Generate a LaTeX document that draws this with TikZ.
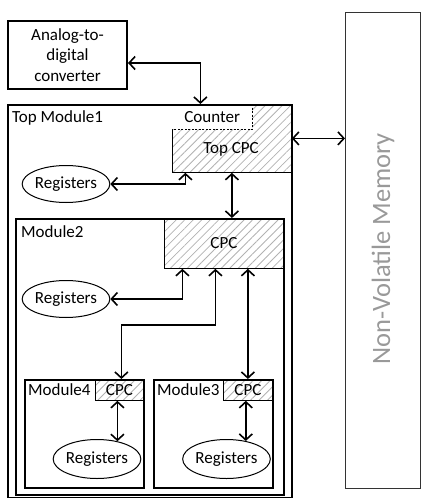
\documentclass[tikz,border=0pt]{standalone}
\usepackage{fontspec}
\setmainfont{Carlito}
\usetikzlibrary{arrows.meta,patterns.meta,shapes.geometric}
\begin{document}
\begin{tikzpicture}[x=1pt,y=-1pt,
  every node/.style={font=\fontsize{17}{20.5}\selectfont, inner sep=0pt},
  thickbox/.style={draw, line width=2pt, anchor=north west},
  hatchbox/.style={draw, line width=0.8pt, anchor=north west,
    pattern={Lines[angle=45,distance=6pt,line width=0.8pt]}, pattern color=black!30},
  regs/.style={draw, ellipse, line width=1pt, minimum width=78pt, minimum height=37pt},
  arr/.style={line width=1.6pt, {Straight Barb[length=6pt,width=13pt]}-{Straight Barb[length=6pt,width=13pt]}},
  lbl/.style={anchor=west}]
\useasboundingbox (0,0) rectangle (422,498);
% hatched control boxes
\node[hatchbox, minimum width=119pt, minimum height=68pt] (topcpc) at (172,104) {};
\node[hatchbox, minimum width=119pt, minimum height=50pt] (cpc2) at (164,218) {CPC};
\node[hatchbox, minimum width=48pt, minimum height=21pt] (cpc4) at (95,379) {CPC};
\node[hatchbox, minimum width=49pt, minimum height=21pt] (cpc3) at (223,379) {CPC};
% counter
\node[fill=white, anchor=north west, minimum width=80pt, minimum height=25pt] (counter) at (172,104) {Counter};
\draw[line width=0.8pt, dash pattern=on 2pt off 1.5pt] (counter.north east) -- (counter.south east) -- (counter.south west);
\node (topcpclbl) at (231,149) {Top CPC};
% module boxes
\node[thickbox, minimum width=119pt, minimum height=68pt] (adc) at (7,20) {};
\node[align=center] (adctext) at (adc.center) {Analog-to-\\digital\\converter};
\node[thickbox, minimum width=284pt, minimum height=393pt] (top) at (7,104) {};
\node[thickbox, minimum width=268pt, minimum height=276pt] (mod2) at (15,218) {};
\node[thickbox, minimum width=119pt, minimum height=108pt] (mod4) at (24,379) {};
\node[thickbox, minimum width=119pt, minimum height=108pt] (mod3) at (153,379) {};
\node[lbl] (toplbl) at (12,118) {Top Module1};
\node[lbl] (mod2lbl) at (21,232) {Module2};
\node[lbl] (mod4lbl) at (28,390) {Module4};
\node[lbl] (mod3lbl) at (157,390) {Module3};
% non-volatile memory
\node[draw=black!80, line width=0.8pt, anchor=north west, minimum width=75pt, minimum height=476pt] (nvm) at (345,12) {};
\node[rotate=90, text=black!40, font=\fontsize{26.5}{30}\selectfont] (nvmlbl) at (383,249) {Non-Volatile Memory};
% registers
\node[regs] (reg1) at (66,184) {Registers};
\node[regs] (reg2) at (66,299) {Registers};
\node[regs, minimum width=79pt, minimum height=39pt] (reg4) at (97,459) {Registers};
\node[regs, minimum width=79pt, minimum height=39pt] (reg3) at (226.5,459) {Registers};
% connectors
\draw[arr] ([yshift=-8pt]adc.east) -| ([xshift=-31.5pt]topcpc.north);
\draw[arr] (topcpc.east) -- (topcpc.east -| nvm.west);
\draw[arr] (reg1.east) -| ([xshift=-46.5pt]topcpc.south);
\draw[arr] (topcpc.south) -- (topcpc.south |- cpc2.north);
\draw[arr] (reg2.east) -| ([xshift=-41.5pt]cpc2.south);
\draw[arr] ([xshift=-8.5pt]cpc2.south) -- ++(0,56) -| ([xshift=2pt]cpc4.north);
\draw[arr] (cpc3.north |- cpc2.south) -- (cpc3.north);
\draw[arr] (reg4.41 |- cpc4.south) -- (reg4.41);
\draw[arr] (reg3.43 |- cpc3.south) -- (reg3.43);
\end{tikzpicture}
\end{document}
